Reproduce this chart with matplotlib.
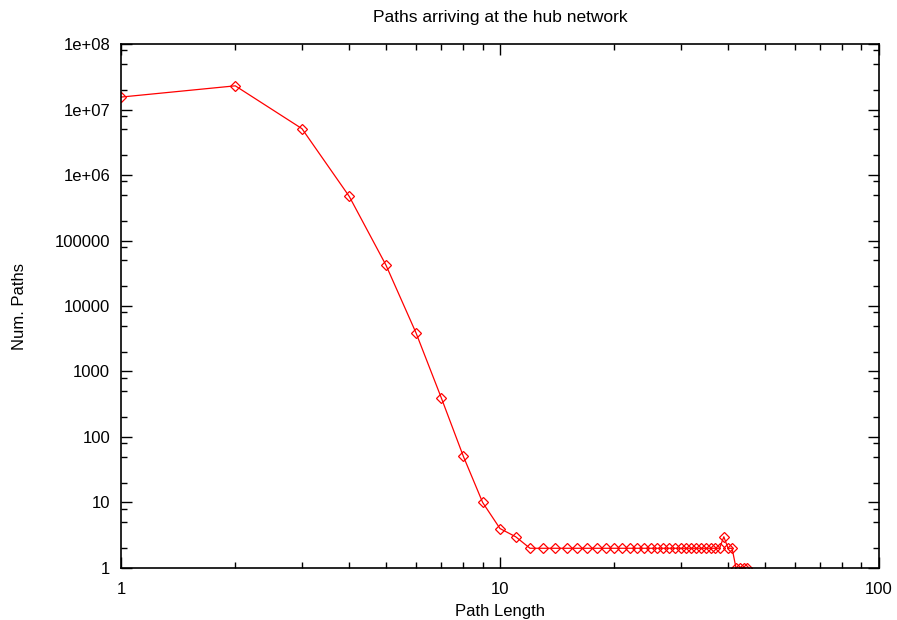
import numpy as np
import matplotlib
matplotlib.use("Agg")
import matplotlib.pyplot as plt
from matplotlib.ticker import LogLocator, FixedLocator, FixedFormatter, NullFormatter

plt.rcParams['font.family'] = ['Liberation Sans', 'DejaVu Sans']

# path length vs number of paths
path_length = list(range(1, 46))
num_paths = [1.55e7, 2.3e7, 5.1e6, 4.7e5, 4.2e4, 3.9e3, 395, 51, 10, 4, 3] \
    + [2] * 27 + [3, 2, 2] + [1] * 4

y_ticks = [1, 10, 100, 1000, 10000, 100000, 1e6, 1e7, 1e8]
y_labels = ['1', '10', '100', '1000', '10000', '100000', '1e+06', '1e+07', '1e+08']
x_ticks = [1, 10, 100]
x_labels = ['1', '10', '100']

fig = plt.figure(figsize=(8.97, 6.2), dpi=100)
ax = fig.add_axes([0.1352, 0.0839, 0.8444, 0.8451])

ax.plot(path_length, num_paths, color='red', linewidth=0.9,
        marker='D', markersize=5.2, markerfacecolor='none',
        markeredgecolor='red', markeredgewidth=0.9)

ax.set_xscale('log')
ax.set_yscale('log')
ax.set_xlim(1, 100)
ax.set_ylim(1, 1e8)

ax.xaxis.set_major_locator(FixedLocator(x_ticks))
ax.xaxis.set_major_formatter(FixedFormatter(x_labels))
ax.xaxis.set_minor_locator(LogLocator(base=10, subs=np.arange(2, 10)))
ax.xaxis.set_minor_formatter(NullFormatter())
ax.yaxis.set_major_locator(FixedLocator(y_ticks))
ax.yaxis.set_major_formatter(FixedFormatter(y_labels))
ax.yaxis.set_minor_locator(LogLocator(base=10, subs=[2, 5, 8], numticks=20))
ax.yaxis.set_minor_formatter(NullFormatter())

ax.tick_params(which='both', direction='in', top=True, right=True, labelsize=12)
ax.tick_params(which='major', length=8, width=1)
ax.tick_params(which='minor', length=4, width=1)
ax.tick_params(axis='x', which='major', pad=10)
ax.tick_params(axis='y', which='major', pad=8)
for s in ax.spines.values():
    s.set_linewidth(1.2)

ax.set_title('Paths arriving at the hub network', fontsize=12.5, pad=16)
ax.set_xlabel('Path Length', fontsize=12, labelpad=5)
ax.set_ylabel('Num. Paths', fontsize=12, labelpad=20)

fig.savefig('out.png', dpi=100)
